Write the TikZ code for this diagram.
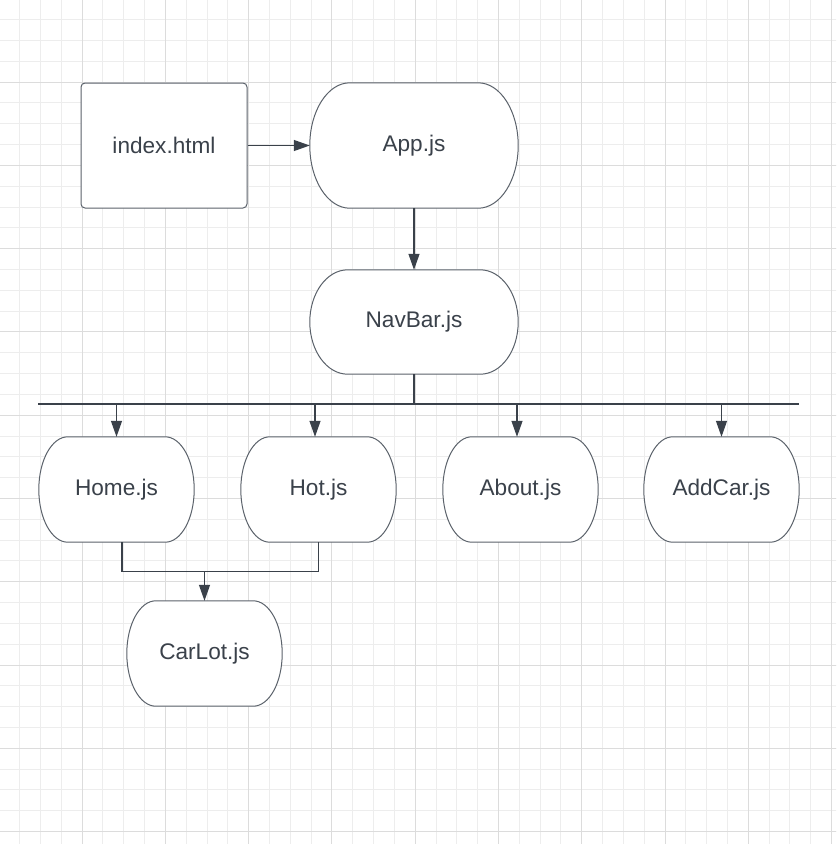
\documentclass[tikz,border=0pt]{standalone}
\usepackage{fontspec}
\setmainfont{Liberation Sans}
\usetikzlibrary{arrows.meta,positioning,calc,backgrounds}
\definecolor{ink}{HTML}{3A414A}
\definecolor{edge}{HTML}{5B626B}
\definecolor{minorgrid}{HTML}{EDEDED}
\definecolor{majorgrid}{HTML}{DCDCDC}

% outline of node #1 with elliptic ends, corner width #2
\newcommand\termshape[2]{%
  \begin{pgfonlayer}{background}
  \filldraw[outline] let \p1=(#1.north east), \p2=(#1.south west), \n1={(\y1-\y2)/2} in
    (\x2+#2,\y1) -- (\x1-#2,\y1) arc[start angle=90, end angle=-90, x radius=#2, y radius=\n1]
    -- (\x2+#2,\y2) arc[start angle=270, end angle=90, x radius=#2, y radius=\n1] -- cycle;
  \end{pgfonlayer}}

\begin{document}
\begin{tikzpicture}[x=1pt, y=1pt, font=\fontsize{22.6}{26}\selectfont, text=ink,
  box/.style = {draw=edge, fill=white, line width=1pt, rounded corners=4pt, inner sep=0pt, minimum width=166pt, minimum height=125pt},
  term/.style = {inner sep=0pt, minimum width=155pt, minimum height=105pt},
  outline/.style = {draw=edge, fill=white, line width=1pt},
  link/.style = {draw=ink, line width=1.2pt},
  arr/.style = {link, -{Triangle[length=16pt, width=11pt]}}]
\useasboundingbox (0,0) rectangle (836,-844);

% grid paper
\begin{scope}[on background layer]
\fill[white] (0,0) rectangle (836,-844);
\clip (0,0) rectangle (836,-844);
\begin{scope}[shift={(-1.2,1.2)}]
\draw[minorgrid, line width=1pt, step=20.82] (0,0) grid (840,-848);
\draw[majorgrid, line width=1pt, step=83.28] (0,0) grid (840,-848);
\end{scope}
\end{scope}

\node[term, minimum width=208pt, minimum height=125pt] (app) at (414,-145.5) {App.js};
\node[box] (index) [left of=app, node distance=250pt] {index.html};
\node[term, minimum width=208pt, minimum height=104pt] (navbar) [below of=app, node distance=176.5pt] {NavBar.js};
\node[term] (home) at (116.5,-489.5) {Home.js};
\node[term] (hot) [right of=home, node distance=202pt] {Hot.js};
\node[term] (about) [right of=hot, node distance=202pt] {About.js};
\node[term] (addcar) [right of=about, node distance=201pt] {AddCar.js};
\node[term] (carlot) at (204.5,-653.5) {CarLot.js};

\termshape{app}{40pt}
\termshape{navbar}{38pt}
\foreach \nd in {home,hot,about,addcar,carlot}
  \termshape{\nd}{29pt};

\coordinate (busL) at (38,-404);
\coordinate (busR) at (799,-404);
\coordinate (join) at ($(carlot.north)+(0,29)$);

\draw[arr] (index) -- (app);
\draw[arr] (app) -- (navbar);
\draw[link] (navbar) -- (navbar.south |- busL);
\draw[link] (busL) -- (busR);
\draw[arr] (home.north |- busL) -- (home);
\draw[arr] ([xshift=-3.5pt]hot.north |- busL) -- ([xshift=-3.5pt]hot.north);
\draw[arr] ([xshift=-3.5pt]about.north |- busL) -- ([xshift=-3.5pt]about.north);
\draw[arr] (addcar.north |- busL) -- (addcar);
\draw[link] ([xshift=5.5pt]home.south) |- (join) -| (hot.south);
\draw[arr] (join) -- (carlot);
\end{tikzpicture}
\end{document}
